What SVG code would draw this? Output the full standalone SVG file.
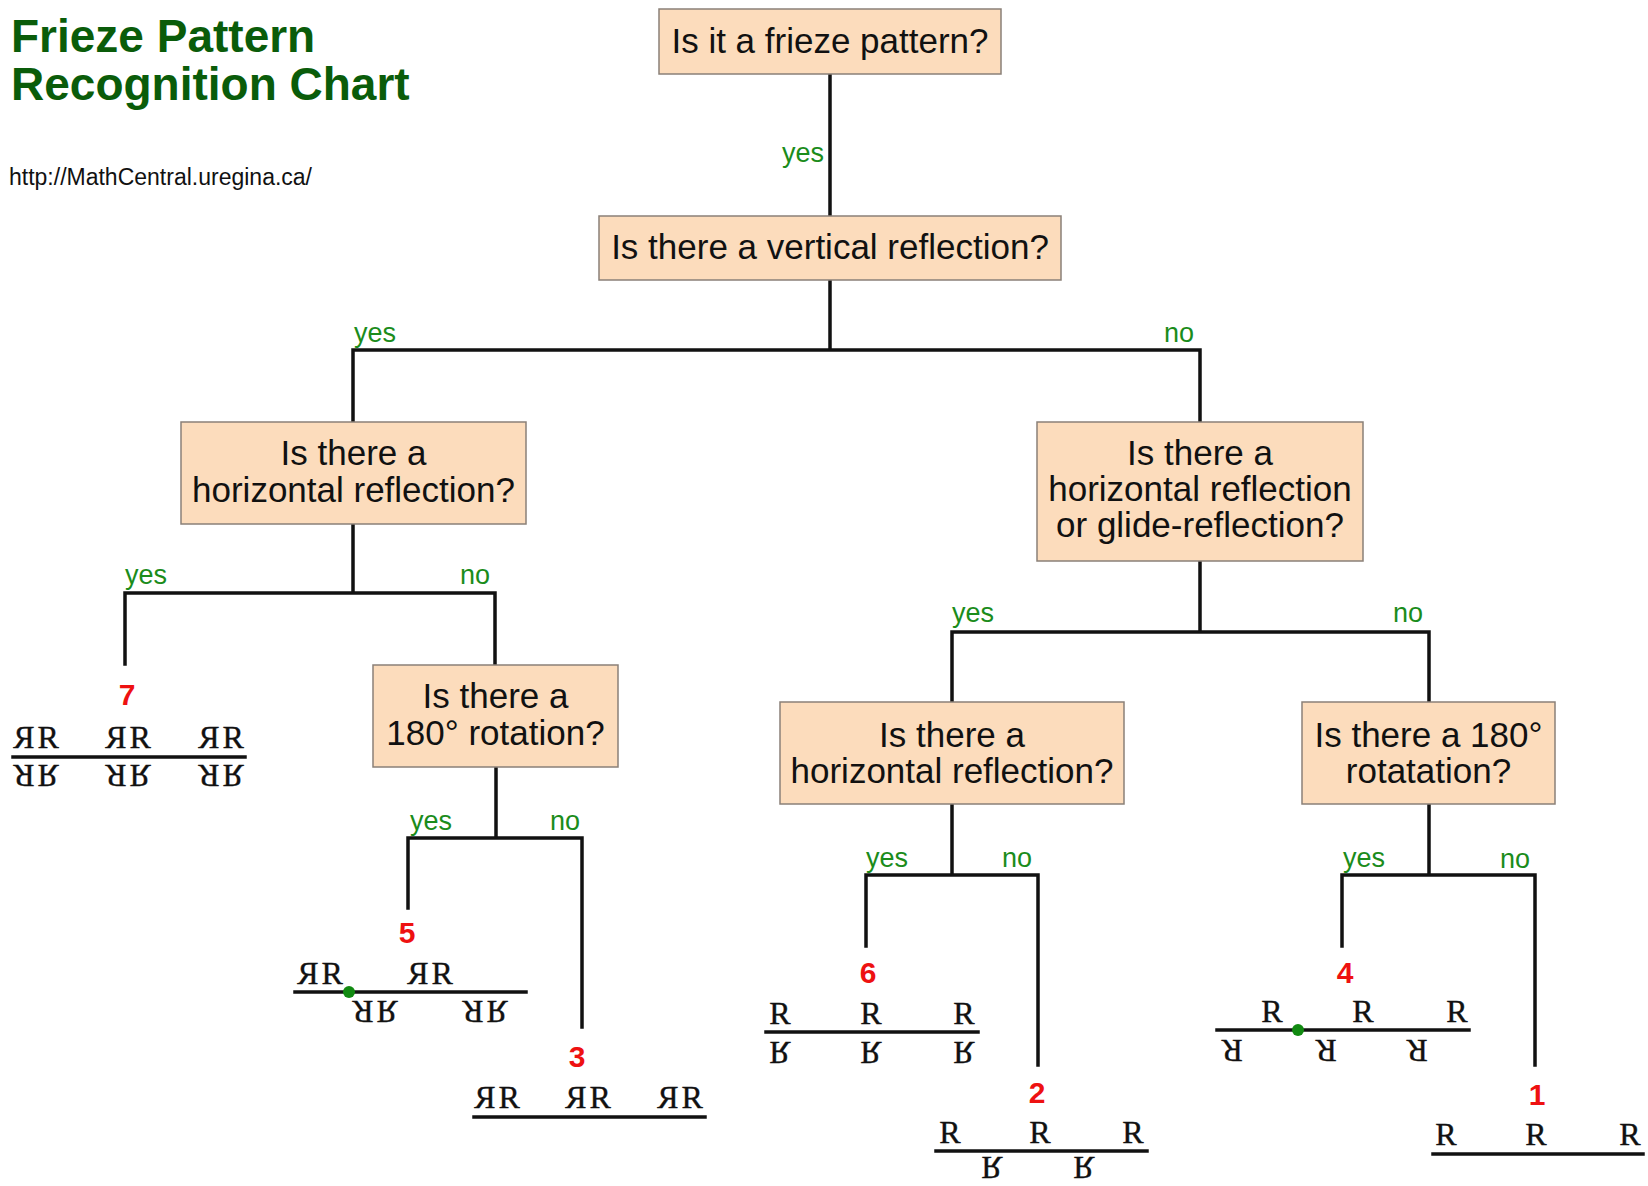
<svg xmlns="http://www.w3.org/2000/svg" width="1648" height="1186" viewBox="0 0 1648 1186">
<style>
.bg{fill:#ffffff}
.box{fill:#fcdcbc;stroke:#8a8078;stroke-width:1.5}
.q{font-family:"Liberation Sans",Arial,sans-serif;font-size:35px;fill:#111;text-anchor:middle}
.lbl{font-family:"Liberation Sans",Arial,sans-serif;font-size:27px;fill:#1b8c1b}
.num{font-family:"Liberation Sans",Arial,sans-serif;font-size:30px;font-weight:bold;fill:#ee1111;text-anchor:middle}
.r{font-family:"Liberation Serif","Times New Roman",serif;font-size:32px;fill:#111;stroke:#111;stroke-width:0.35}
.rc{font-family:"Liberation Serif","Times New Roman",serif;font-size:32px;fill:#111;stroke:#111;stroke-width:0.35;text-anchor:middle}
.title{font-family:"Liberation Sans",Arial,sans-serif;font-size:46px;font-weight:bold;fill:#0a5c0a}
.url{font-family:"Liberation Sans",Arial,sans-serif;font-size:23px;fill:#111}
.ln{stroke:#111;stroke-width:3.5;fill:none;stroke-linecap:square}
.dot{fill:#118a11}
</style>
<rect class="bg" x="0" y="0" width="1648" height="1186"/>

<g id="title">
<text class="title" x="11" y="52">Frieze Pattern</text>
<text class="title" x="11" y="100">Recognition Chart</text>
<text class="url" x="9" y="185">http://MathCentral.uregina.ca/</text>
</g>

<g id="connectors">
<path class="ln" d="M830,74V216 M830,280V350 M353,350H1200 M353,350V422 M1200,350V422"/>
<path class="ln" d="M353,524V593 M125,593H495 M125,593V664 M495,593V665"/>
<path class="ln" d="M496,767V838 M408,838H582 M408,838V908 M582,838V1027"/>
<path class="ln" d="M1200,561V632 M952,632H1429 M952,632V702 M1429,632V702"/>
<path class="ln" d="M952,804V875 M866,875H1038 M866,875V946 M1038,875V1065"/>
<path class="ln" d="M1429,804V875 M1342,875H1535 M1342,875V946 M1535,875V1065"/>
<text class="lbl" x="782" y="162">yes</text>
<text class="lbl" x="354" y="342">yes</text>
<text class="lbl" x="1164" y="342">no</text>
<text class="lbl" x="125" y="584">yes</text>
<text class="lbl" x="460" y="584">no</text>
<text class="lbl" x="410" y="830">yes</text>
<text class="lbl" x="550" y="830">no</text>
<text class="lbl" x="952" y="622">yes</text>
<text class="lbl" x="1393" y="622">no</text>
<text class="lbl" x="866" y="867">yes</text>
<text class="lbl" x="1002" y="867">no</text>
<text class="lbl" x="1343" y="867">yes</text>
<text class="lbl" x="1500" y="868">no</text>
</g>

<g id="q-frieze">
<rect class="box" x="659" y="9" width="342" height="65"/>
<text class="q" x="830" y="53">Is it a frieze pattern?</text>
</g>
<g id="q-vertical">
<rect class="box" x="599" y="216" width="462" height="64"/>
<text class="q" x="830" y="259">Is there a vertical reflection?</text>
</g>
<g id="q-horizontal-left">
<rect class="box" x="181" y="422" width="345" height="102"/>
<text class="q" x="353.5" y="465">Is there a</text>
<text class="q" x="353.5" y="502">horizontal reflection?</text>
</g>
<g id="q-rotation-left">
<rect class="box" x="373" y="665" width="245" height="102"/>
<text class="q" x="495.5" y="708">Is there a</text>
<text class="q" x="495.5" y="745">180° rotation?</text>
</g>
<g id="q-glide">
<rect class="box" x="1037" y="422" width="326" height="139"/>
<text class="q" x="1200" y="465">Is there a</text>
<text class="q" x="1200" y="501">horizontal reflection</text>
<text class="q" x="1200" y="537">or glide-reflection?</text>
</g>
<g id="q-horizontal-right">
<rect class="box" x="780" y="702" width="344" height="102"/>
<text class="q" x="952" y="747">Is there a</text>
<text class="q" x="952" y="783">horizontal reflection?</text>
</g>
<g id="q-rotation-right">
<rect class="box" x="1302" y="702" width="253" height="102"/>
<text class="q" x="1428.5" y="747">Is there a 180°</text>
<text class="q" x="1428.5" y="783">rotatation?</text>
</g>

<g id="pattern-7">
<text class="num" x="127" y="705">7</text>
<path class="ln" d="M13,757H245"/>
<g transform="translate(0,748)">
<text class="r" transform="translate(36,0) scale(-1,1)" x="1.5" y="0">R</text><text class="r" x="37.5" y="0">R</text>
<text class="r" transform="translate(128,0) scale(-1,1)" x="1.5" y="0">R</text><text class="r" x="129.5" y="0">R</text>
<text class="r" transform="translate(221,0) scale(-1,1)" x="1.5" y="0">R</text><text class="r" x="222.5" y="0">R</text>
</g>
<g transform="translate(0,765) scale(1,-1)">
<text class="r" transform="translate(36,0) scale(-1,1)" x="1.5" y="0">R</text><text class="r" x="37.5" y="0">R</text>
<text class="r" transform="translate(128,0) scale(-1,1)" x="1.5" y="0">R</text><text class="r" x="129.5" y="0">R</text>
<text class="r" transform="translate(221,0) scale(-1,1)" x="1.5" y="0">R</text><text class="r" x="222.5" y="0">R</text>
</g>
</g>

<g id="pattern-5">
<text class="num" x="407" y="943">5</text>
<path class="ln" d="M295,992H526"/>
<circle class="dot" cx="349" cy="992" r="6"/>
<g transform="translate(0,984)">
<text class="r" transform="translate(320,0) scale(-1,1)" x="1.5" y="0">R</text><text class="r" x="321.5" y="0">R</text>
<text class="r" transform="translate(430,0) scale(-1,1)" x="1.5" y="0">R</text><text class="r" x="431.5" y="0">R</text>
</g>
<g transform="translate(0,1001) scale(1,-1)">
<text class="r" transform="translate(375,0) scale(-1,1)" x="1.5" y="0">R</text><text class="r" x="376.5" y="0">R</text>
<text class="r" transform="translate(485,0) scale(-1,1)" x="1.5" y="0">R</text><text class="r" x="486.5" y="0">R</text>
</g>
</g>

<g id="pattern-3">
<text class="num" x="577" y="1067">3</text>
<path class="ln" d="M474,1117H705"/>
<g transform="translate(0,1108)">
<text class="r" transform="translate(497,0) scale(-1,1)" x="1.5" y="0">R</text><text class="r" x="498.5" y="0">R</text>
<text class="r" transform="translate(588,0) scale(-1,1)" x="1.5" y="0">R</text><text class="r" x="589.5" y="0">R</text>
<text class="r" transform="translate(680,0) scale(-1,1)" x="1.5" y="0">R</text><text class="r" x="681.5" y="0">R</text>
</g>
</g>

<g id="pattern-6">
<text class="num" x="868" y="983">6</text>
<path class="ln" d="M766,1032H978"/>
<text class="rc" x="780" y="1024">R</text>
<text class="rc" x="871" y="1024">R</text>
<text class="rc" x="964" y="1024">R</text>
<g transform="translate(0,1042) scale(1,-1)">
<text class="rc" x="780" y="0">R</text>
<text class="rc" x="871" y="0">R</text>
<text class="rc" x="964" y="0">R</text>
</g>
</g>

<g id="pattern-2">
<text class="num" x="1037" y="1103">2</text>
<path class="ln" d="M936,1151H1147"/>
<text class="rc" x="950" y="1143">R</text>
<text class="rc" x="1040" y="1143">R</text>
<text class="rc" x="1133" y="1143">R</text>
<g transform="translate(0,1157) scale(1,-1)">
<text class="rc" x="992" y="0">R</text>
<text class="rc" x="1084" y="0">R</text>
</g>
</g>

<g id="pattern-4">
<text class="num" x="1345" y="983">4</text>
<path class="ln" d="M1217,1030H1469"/>
<circle class="dot" cx="1298" cy="1030" r="6"/>
<text class="rc" x="1272" y="1022">R</text>
<text class="rc" x="1363" y="1022">R</text>
<text class="rc" x="1457" y="1022">R</text>
<text class="rc" transform="translate(1232,1040) rotate(180)" x="0" y="0">R</text>
<text class="rc" transform="translate(1326,1040) rotate(180)" x="0" y="0">R</text>
<text class="rc" transform="translate(1417,1040) rotate(180)" x="0" y="0">R</text>
</g>

<g id="pattern-1">
<text class="num" x="1537" y="1105">1</text>
<path class="ln" d="M1433,1154H1643"/>
<text class="rc" x="1446" y="1145">R</text>
<text class="rc" x="1536" y="1145">R</text>
<text class="rc" x="1630" y="1145">R</text>
</g>
</svg>
